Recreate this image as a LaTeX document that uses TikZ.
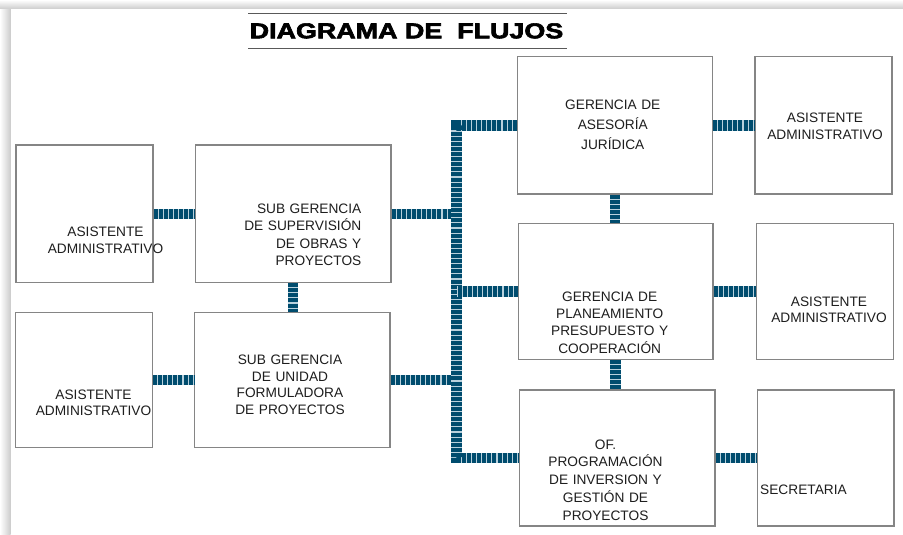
\documentclass[tikz,border=0pt]{standalone}
\usepackage{fontspec}
\setmainfont{Liberation Sans}
\newfontfamily\titlefont{Liberation Sans Bold}[FakeBold=2.6]
\definecolor{cdark}{HTML}{004C6E}
\definecolor{clight}{HTML}{B9D1DD}
\definecolor{boxline}{HTML}{858585}
\definecolor{txt}{HTML}{1E1E1E}
\begin{document}
\begin{tikzpicture}[x=1pt,y=-1pt,
  box/.style={draw=boxline, line width=1.2pt, inner sep=0pt, fill=white},
  lbl/.style={text=txt, inner sep=0pt, align=center, text width=150pt},
  conn/.style={preaction={draw=clight, line width=10.5pt, solid},
               draw=cdark, line width=10.5pt, dash pattern=on 4pt off 1.1pt, line join=miter},
]
\useasboundingbox (0,0) rectangle (903,535);
% page shadow
\shade[left color=white, right color=gray!40] (0,0) rectangle (10.5,535);
\shade[top color=white, bottom color=gray!40] (0,0) rectangle (903,9);
\fill[white] (10.5,9) rectangle (903,535);

% title
\draw[gray!70!black, line width=1.4pt] (248,13.3) -- (567,13.3);
\draw[gray!70!black, line width=1.4pt] (248,48.3) -- (567,48.3);
\node[anchor=base, inner sep=0pt] (title) at (406.5,38.3)
  {\scalebox{1.25}[1]{\titlefont\fontsize{21.5}{21.5}\selectfont DIAGRAMA DE\ \ FLUJOS}};

% trunk coordinate
\coordinate (trunk) at (456.7,0);

% boxes
\node[box, minimum width=137pt, minimum height=137.5pt] (a1) at (84.5,213.8) {};
\node[box, minimum width=195.5pt, minimum height=137.5pt] (sg1) at (293.2,213.8) {};
\node[box, minimum width=136.6pt, minimum height=135.4pt] (a2) at (84,380) {};
\node[box, minimum width=195.3pt, minimum height=135.4pt] (sg2) at (292.3,380) {};
\node[box, minimum width=195pt, minimum height=137.3pt] (gaj) at (614.8,125.3) {};
\node[box, minimum width=137pt, minimum height=137.3pt] (a3) at (823.5,125.3) {};
\node[box, minimum width=194.7pt, minimum height=136pt] (gpp) at (615.7,291.3) {};
\node[box, minimum width=136.6pt, minimum height=136pt] (a4) at (825,291.3) {};
\node[box, minimum width=195.7pt, minimum height=136pt] (of) at (617.2,458) {};
\node[box, minimum width=136.3pt, minimum height=136pt] (sec) at (825.8,458) {};

% connectors
\draw[conn] (a1.east) -- (sg1.west);
\draw[conn] (a2.east) -- (sg2.west);
\draw[conn] (sg1.south) -- (sg1.south |- sg2.north);
\draw[conn] (sg1.east) -- (sg1.east -| trunk);
\draw[conn] (sg2.east) -- (sg2.east -| trunk);
\draw[conn] (gaj.west) -- (gaj.west -| trunk) -- (of.west -| trunk) -- (of.west);
\draw[conn] (gpp.west) -- (gpp.west -| trunk);
\draw[conn] (gaj.south) -- (gaj.south |- gpp.north);
\draw[conn] (gpp.south) -- (gpp.south |- of.north);
\draw[conn] (gaj.east) -- (a3.west);
\draw[conn] (gpp.east) -- (a4.west);
\draw[conn] (of.east) -- (sec.west);

% texts
\node[lbl, anchor=base, font=\fontsize{13.7}{17}\selectfont] (ta1) at (105.5,236.7)
  {ASISTENTE\\ADMINISTRATIVO};
\node[lbl, anchor=base east, align=right, font=\fontsize{13.7}{17.5}\selectfont] (tsg1) at (361.5,213.3)
  {SUB GERENCIA\\DE SUPERVISIÓN\\DE OBRAS Y\\PROYECTOS};
\node[lbl, anchor=base, font=\fontsize{13.7}{16}\selectfont] (ta2) at (93.5,399)
  {ASISTENTE\\ADMINISTRATIVO};
\node[lbl, anchor=base, font=\fontsize{13.7}{16.5}\selectfont] (tsg2) at (290,364.5)
  {SUB GERENCIA\\DE UNIDAD\\FORMULADORA\\DE PROYECTOS};
\node[lbl, anchor=base, font=\fontsize{13.7}{19.6}\selectfont] (tgaj) at (612.8,110)
  {GERENCIA DE\\ASESORÍA\\JURÍDICA};
\node[lbl, anchor=base, font=\fontsize{13.7}{17.3}\selectfont] (ta3) at (825,122.7)
  {ASISTENTE\\ADMINISTRATIVO};
\node[lbl, anchor=base, font=\fontsize{13.7}{17.4}\selectfont] (tgpp) at (609.7,301)
  {GERENCIA DE\\PLANEAMIENTO\\PRESUPUESTO Y\\COOPERACIÓN};
\node[lbl, anchor=base, font=\fontsize{13.7}{16}\selectfont] (ta4) at (829,306.7)
  {ASISTENTE\\ADMINISTRATIVO};
\node[lbl, anchor=base, font=\fontsize{13.7}{17.9}\selectfont] (tof) at (605.5,449)
  {OF.\\PROGRAMACIÓN\\DE INVERSION Y\\GESTIÓN DE\\PROYECTOS};
\node[text=txt, inner sep=0pt, anchor=base west, font=\fontsize{13.7}{16}\selectfont] (tsec) at (760,494.3)
  {SECRETARIA};
\end{tikzpicture}
\end{document}
